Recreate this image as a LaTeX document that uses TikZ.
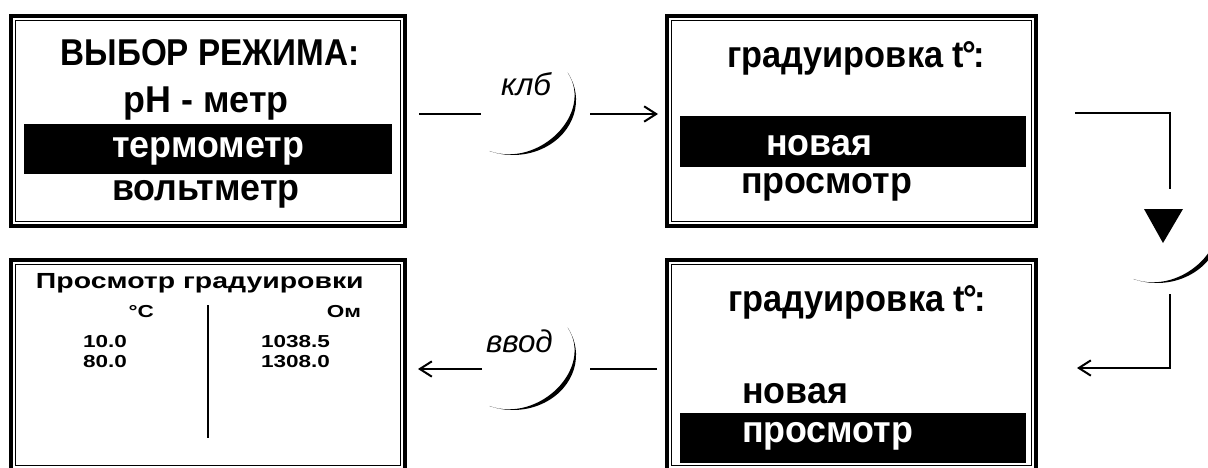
\documentclass[tikz,border=0pt]{standalone}
\usepackage{fontspec}
\setmainfont{Liberation Sans}
\newfontfamily\widefont[FakeStretch=1.3]{Liberation Sans}
\newfontfamily\titlefont[FakeStretch=0.89]{Liberation Sans}
\newfontfamily\gradfont[FakeStretch=0.92]{Liberation Sans}
\newfontfamily\itemfont[FakeStretch=0.96]{Liberation Sans}
\usetikzlibrary{arrows.meta,calc}
\begin{document}
\begin{tikzpicture}[x=0.75pt,y=-0.75pt,line width=1.5pt,
 >={Straight Barb[length=9pt,width=11.5pt]},
 frame/.style={draw,line width=3pt,outer sep=0pt,inner sep=0pt},
 innerframe/.style={line width=1.1pt},
 bar/.style={fill=black,inner sep=0pt,outer sep=0pt},
 big/.style={font=\itemfont\fontsize{28}{30}\selectfont\bfseries,inner sep=0pt},
 ttl/.style={font=\titlefont\fontsize{28}{30}\selectfont\bfseries,inner sep=0pt},
 grad/.style={font=\gradfont\fontsize{28}{30}\selectfont\bfseries,inner sep=0pt},
 inv/.style={big,text=white},
 lbl/.style={font=\fontsize{23.5}{26}\selectfont\itshape,inner sep=0pt},
 tab/.style={font=\widefont\fontsize{13}{15}\selectfont\bfseries,inner sep=0pt},
 tabhead/.style={font=\widefont\fontsize{16.4}{19}\selectfont\bfseries,inner sep=0pt},
 crescent/.pic={\fill (54.6,-27.5) arc[start angle=-30,end angle=112,x radius=63,y radius=55]
   .. controls (26.1,68.5) and (81.4,13) .. (54.6,-27.5);}]
\useasboundingbox (0,0) rectangle (1208,468);
% frames
\node[frame,minimum width=295.5pt,minimum height=157.5pt] (b1) at (208,121) {};
\node[frame,minimum width=276.75pt,minimum height=157.5pt] (b2) at (851.5,121) {};
\node[frame,minimum width=276.75pt,minimum height=157.5pt] (b3) at (851.5,365) {};
\node[frame,minimum width=295.5pt,minimum height=157.5pt] (b4) at (208,365) {};
\foreach \b in {b1,b2,b3,b4}
  \draw[innerframe] ($(\b.north west)+(4.5,4.5)$) rectangle ($(\b.south east)+(-4.5,-4.5)$);
% selection bars
\node[bar,minimum width=276pt,minimum height=37.5pt] (s1) at (208,149) {};
\node[bar,minimum width=259.5pt,minimum height=38.25pt] (s2) at (853,141.5) {};
\node[bar,minimum width=259.5pt,minimum height=37.5pt] (s3) at (853,438) {};
% box 1
\node[ttl,anchor=base] (t11) at (210,65) {ВЫБОР РЕЖИМА:};
\node[big,anchor=base] (t12) at (206,112) {pH - метр};
\node[inv,anchor=base] (t13) at (208,157) {термометр};
\node[big,anchor=base] (t14) at (206,200) {вольтметр};
% box 2
\node[grad,anchor=base] (t21) at (856,67) {градуировка t\kern-0.06em°\kern-0.06em:};
\node[inv,anchor=base west] (t22) at (765,155) {новая};
\node[big,anchor=base west] (t23) at (740,193) {просмотр};
% box 3
\node[grad,anchor=base] (t31) at (857,311) {градуировка t\kern-0.06em°\kern-0.06em:};
\node[big,anchor=base west] (t32) at (741,403) {новая};
\node[inv,anchor=base west] (t33) at (741,442) {просмотр};
% box 4
\node[tabhead,anchor=base west] (t41) at (35,288) {Просмотр градуировки};
\node[tab,anchor=base east] (t42) at (155,317) {°C};
\node[tab,anchor=base east] (t43) at (362,317) {Ом};
\node[tab,anchor=base west] (t44) at (82,347) {10.0};
\node[tab,anchor=base west] (t45) at (82,367) {80.0};
\node[tab,anchor=base west] (t46) at (260,347) {1038.5};
\node[tab,anchor=base west] (t47) at (260,367) {1308.0};
\coordinate (v1) at (208,305);
\coordinate (v2) at (208,438);
\draw[innerframe] (v1) -- (v2);
% key labels and crescents
\node[lbl,anchor=base west] (l1) at (500,95) {клб};
\node[lbl,anchor=base west] (l2) at (485,352) {ввод};
\pic (k1) at (513,100) {crescent};
\pic (k2) at (513,355) {crescent};
\pic (k3) at (1157,228) {crescent};
\fill (1144,209) -- (1183,209) -- (1163,243) -- cycle;
% connectors
\coordinate (a1) at (419,114);
\coordinate (a2) at (481,114);
\coordinate (a3) at (590,114);
\coordinate (a4) at (658,114);
\draw (a1) -- (a2);
\draw[->] (a3) -- (a4);
\coordinate (r1) at (1075,113);
\coordinate (r3) at (1170,189);
\coordinate (r4) at (1170,294);
\coordinate (r5) at (1077,368);
\draw (r1) -| (r3);
\draw[->] (r4) |- (r5);
\coordinate (d1) at (657,369);
\coordinate (d2) at (590,369);
\coordinate (d3) at (482,369);
\coordinate (d4) at (418,369);
\draw (d1) -- (d2);
\draw[->] (d3) -- (d4);
\end{tikzpicture}
\end{document}
